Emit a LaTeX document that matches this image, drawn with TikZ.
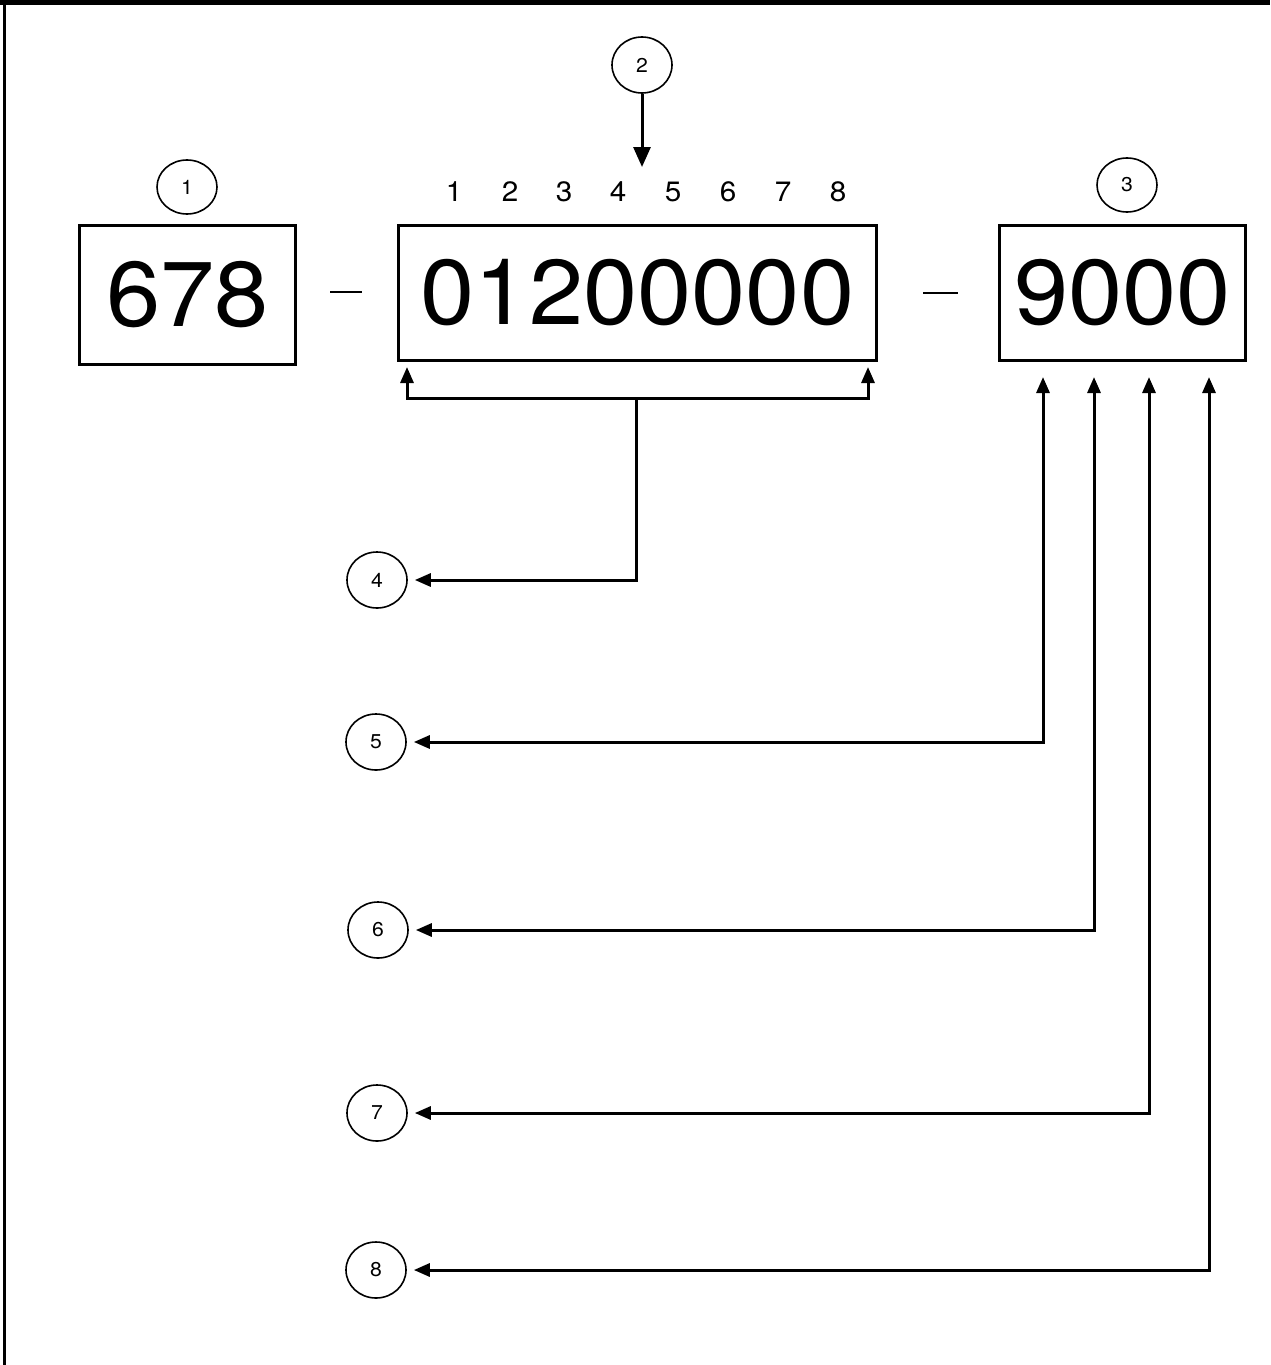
\documentclass[tikz,border=0pt]{standalone}
\usepackage{fontspec}
\setmainfont{TeX Gyre Heros}[FakeStretch=1.06]
\usetikzlibrary{arrows.meta,shapes.geometric}
\begin{document}
\begin{tikzpicture}[x=1pt,y=-1pt,
  box/.style={draw,line width=3pt,inner sep=0pt,font=\fontsize{92}{92}\selectfont},
  num/.style={draw,ellipse,line width=1.6pt,minimum width=60pt,minimum height=56pt,inner sep=0pt,font=\fontsize{20}{20}\selectfont},
  posnum/.style={font=\fontsize{28}{28}\selectfont,inner sep=0pt},
  conn/.style={line width=3pt},
  arr/.style={conn,-{Triangle[length=16pt,width=13pt]}},
  darr/.style={conn,{Triangle[length=16pt,width=13pt]}-{Triangle[length=16pt,width=13pt]}},
  bigarr/.style={conn,-{Triangle[length=20pt,width=17pt]}},
  dashline/.style={line width=2.5pt}
]
\useasboundingbox (0,0) rectangle (1270,1365);
% frame
\fill (0,0) rectangle (1270,4.5);
\fill (3,0) rectangle (6,1365);

% boxes
\node[box,minimum width=216pt,minimum height=139pt] (b1) at (187.5,295) {678};
\node[box,minimum width=478pt,minimum height=135pt] (b2) at (637.5,293) {01200000};
\node[box,minimum width=246pt,minimum height=135pt] (b3) at (1122.5,293) {9000};

% dashes
\draw[dashline] (330,292) -- (362,292);
\draw[dashline] (923,293) -- (958,293);

% position digits
\foreach \i/\x in {1/454,2/510,3/564,4/618,5/673,6/728,7/783,8/838}
  \node[posnum] (p\i) at (\x,192) {\i};

% numbered circles
\node[num,minimum height=54pt] (c1) at (187,187) {1};
\node[num] (c2) at (642,65) {2};
\node[num,minimum height=54pt] (c3) at (1127,185) {3};
\node[num] (c4) at (377,580) {4};
\node[num] (c5) at (376,742) {5};
\node[num] (c6) at (378,930) {6};
\node[num] (c7) at (377,1113) {7};
\node[num] (c8) at (376,1270) {8};

% arrow from 2
\coordinate (a2) at (642,167);
\draw[bigarr] (c2.south) -- (a2);

% bracket under box 2
\coordinate (br) at (636,398);
\coordinate (bl) at (407,367);
\coordinate (brr) at (868,367);
\draw[arr] (br) -| (bl);
\draw[arr] (br) -| (brr);
\draw[arr,shorten >=7pt] (br) |- (c4.east);

% arrows from 9000
\coordinate (t5) at (1043,377);
\coordinate (t6) at (1094,377);
\coordinate (t7) at (1149,377);
\coordinate (t8) at (1209,377);
\draw[darr,shorten >=7pt] (t5) |- (c5.east);
\draw[darr,shorten >=7pt] (t6) |- (c6.east);
\draw[darr,shorten >=7pt] (t7) |- (c7.east);
\draw[darr,shorten >=7pt] (t8) |- (c8.east);
\end{tikzpicture}
\end{document}
